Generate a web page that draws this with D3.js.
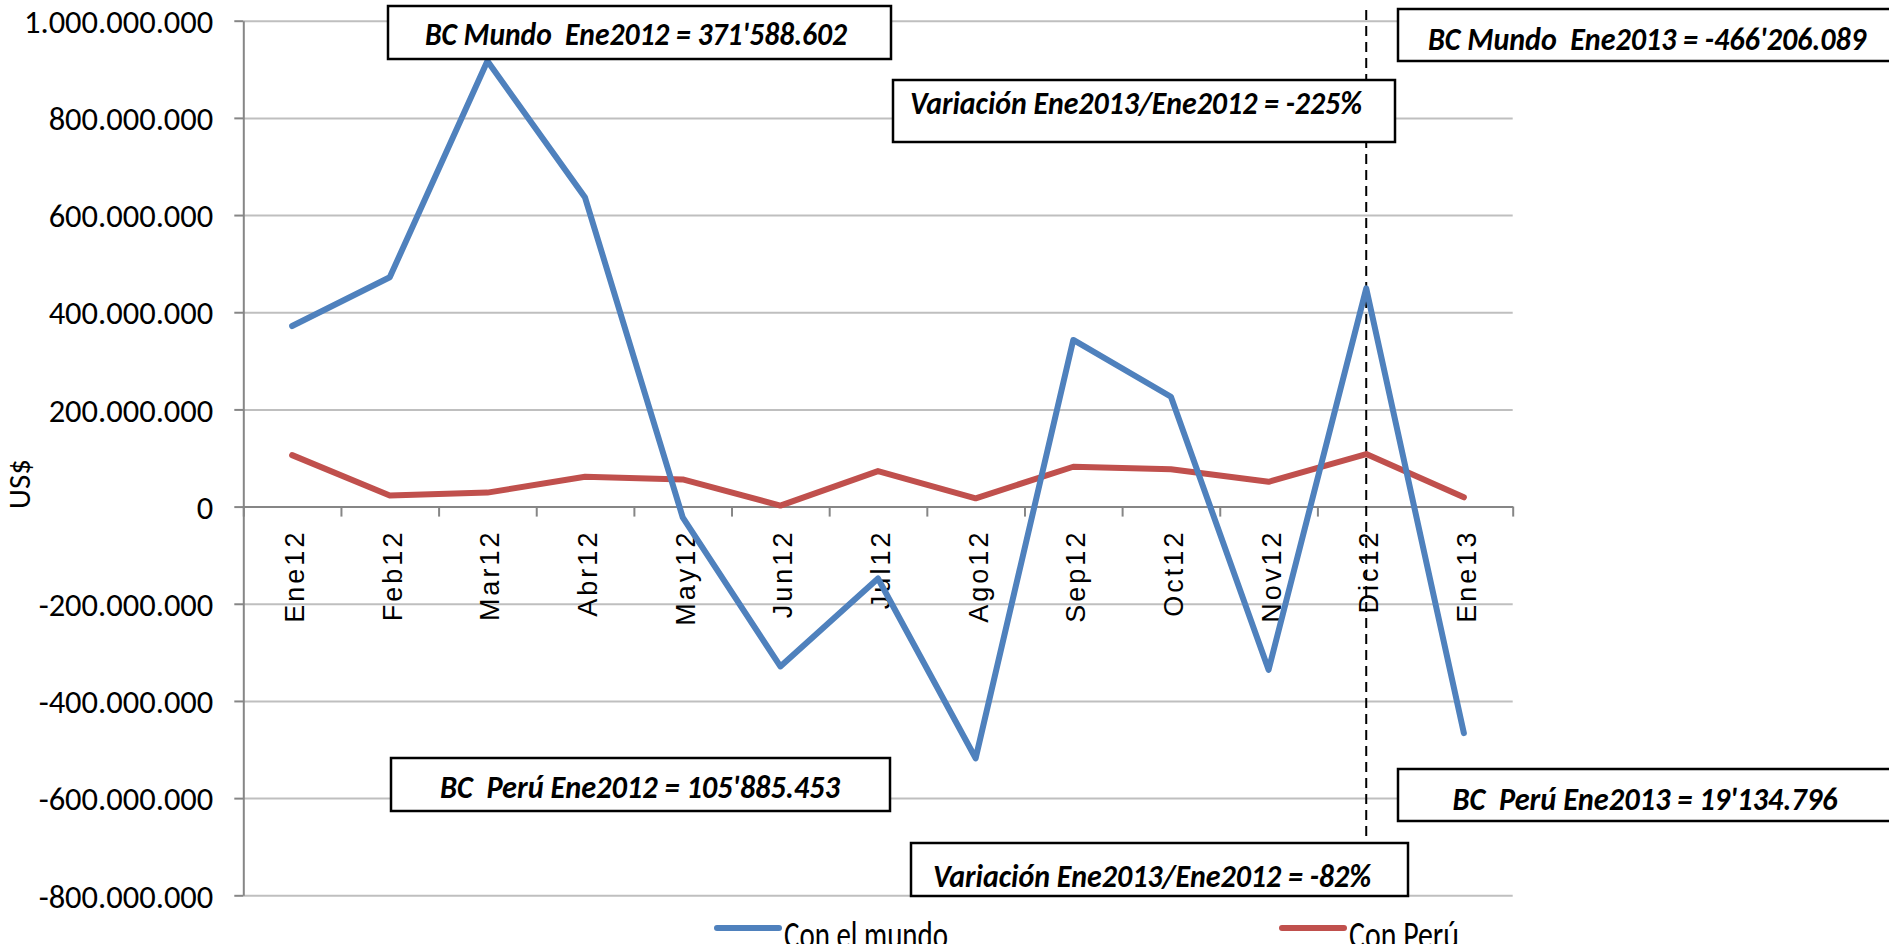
<!DOCTYPE html>
<html>
<head>
<meta charset="utf-8">
<script src="https://cdn.jsdelivr.net/npm/d3@7"></script>
<style>
  body { margin: 0; background: #fff; overflow: hidden; }
  svg { display: block; }
</style>
</head>
<body>
<svg id="chart"></svg>
<script>
// ---- data ----
const months = ["Ene12","Feb12","Mar12","Abr12","May12","Jun12","Jul12","Ago12","Sep12","Oct12","Nov12","Dic12","Ene13"];
const conElMundo = [371588602, 472e6, 917e6, 636e6, -22e6, -329e6, -148e6, -518e6, 343e6, 226e6, -336e6, 449e6, -466206089];
const conPeru = [105885453, 22.7e6, 28.8e6, 61.5e6, 56e6, 2e6, 73e6, 17e6, 82e6, 77e6, 51e6, 108e6, 19134796];
const yTicks = [-800e6, -600e6, -400e6, -200e6, 0, 200e6, 400e6, 600e6, 800e6, 1000e6];
const seriesNames = ["Con el mundo", "Con Perú"];
const noteTexts = [
  "BC Mundo  Ene2012 = 371'588.602",
  "Variación Ene2013/Ene2012 = -225%",
  "BC Mundo  Ene2013 = -466'206.089",
  "BC  Perú Ene2012 = 105'885.453",
  "BC  Perú Ene2013 = 19'134.796",
  "Variación Ene2013/Ene2012 = -82%"
];
const markMonth = "Dic12";

// ---- layout ----
const W = 1889, H = 944;
const plot = { left: 243.3, right: 1512.7, top: 20.7, bottom: 895.3 };
// box rectangles + text extents for the call-outs
const noteBoxes = [
  { x0: 388, x1: 891, y0: 6, y1: 59, base: 45, tx: 636, tw: 422 },
  { x0: 893, x1: 1395, y0: 80, y1: 142, base: 114, tx: 1136, tw: 452 },
  { x0: 1398, x1: 1900, y0: 9, y1: 61, base: 50, tx: 1647, tw: 438 },
  { x0: 391, x1: 890, y0: 758, y1: 811, base: 798, tx: 640, tw: 400 },
  { x0: 1398, x1: 1900, y0: 769, y1: 821, base: 810, tx: 1645, tw: 385 },
  { x0: 911, x1: 1408, y0: 843, y1: 896, base: 887, tx: 1152, tw: 438 }
];
const colors = ["#4F81BD", "#C0504D"];
const calibri = "Carlito, Lato, 'Open Sans', sans-serif";

const svg = d3.select("#chart").attr("width", W).attr("height", H);

const x = d3.scaleBand().domain(months).range([plot.left, plot.right]);
const y = d3.scaleLinear().domain([-800e6, 1000e6]).range([plot.bottom, plot.top]);

const locale = d3.formatLocale({ decimal: ",", thousands: ".", grouping: [3], currency: ["", ""], minus: "-" });
const fmt = locale.format(",d");

// gridlines
svg.append("g")
  .attr("transform", `translate(${plot.left},0)`)
  .call(d3.axisLeft(y).tickValues(yTicks).tickSize(-(plot.right - plot.left)).tickFormat(""))
  .call(g => g.select(".domain").remove())
  .call(g => g.selectAll("line").attr("stroke", "#BFBFBF").attr("stroke-width", 2));

// y axis
svg.append("g")
  .attr("transform", `translate(${plot.left},0)`)
  .call(d3.axisLeft(y).tickValues(yTicks).tickSize(9).tickSizeOuter(0).tickPadding(21).tickFormat(fmt))
  .call(g => g.select(".domain").attr("stroke", "#868686").attr("stroke-width", 2))
  .call(g => g.selectAll("line").attr("stroke", "#868686").attr("stroke-width", 2))
  .call(g => g.selectAll("text")
    .attr("font-family", calibri).attr("font-size", 32.5).attr("fill", "#000").attr("dy", "0.36em"));

// x axis at zero: tick marks on category boundaries
const xEdge = d3.scaleLinear().domain([0, months.length]).range([plot.left, plot.right]);
svg.append("g")
  .attr("transform", `translate(0,${y(0)})`)
  .call(d3.axisBottom(xEdge).tickValues(d3.range(months.length + 1)).tickSize(10).tickSizeOuter(0).tickFormat(""))
  .call(g => g.select(".domain").attr("stroke", "#868686").attr("stroke-width", 2))
  .call(g => g.selectAll("line").attr("stroke", "#868686").attr("stroke-width", 2));

// x labels, rotated
svg.append("g")
  .attr("transform", `translate(0,${y(0)})`)
  .call(d3.axisBottom(x).tickSize(0).tickSizeOuter(0))
  .call(g => g.select(".domain").remove())
  .call(g => g.selectAll("text")
    .attr("font-family", "'Liberation Sans', Arial, sans-serif")
    .attr("font-size", 27)
    .attr("letter-spacing", 3)
    .attr("fill", "#000")
    .attr("text-anchor", "end")
    .attr("transform", "rotate(-90)")
    .attr("x", -23)
    .attr("y", 12)
    .attr("dy", 0));

// y title
svg.append("text")
  .attr("transform", `translate(30,484) rotate(-90)`)
  .attr("text-anchor", "middle")
  .attr("font-family", calibri)
  .attr("font-size", 31)
  .text("US$");

// dashed marker line at Dic12
svg.append("line")
  .attr("x1", x(markMonth) + x.bandwidth() / 2)
  .attr("x2", x(markMonth) + x.bandwidth() / 2)
  .attr("y1", 10).attr("y2", 843)
  .attr("stroke", "#000").attr("stroke-width", 2)
  .attr("stroke-dasharray", "10,6");

// series
const line = d3.line()
  .x((d, i) => x(months[i]) + x.bandwidth() / 2)
  .y(d => y(d));

[conPeru, conElMundo].forEach((vals, k) => {
  svg.append("path")
    .datum(vals)
    .attr("d", line)
    .attr("fill", "none")
    .attr("stroke", colors[1 - k])
    .attr("stroke-width", 6)
    .attr("stroke-linejoin", "round")
    .attr("stroke-linecap", "round");
});

// call-out boxes
const notes = svg.append("g");
noteBoxes.forEach((b, i) => {
  notes.append("rect")
    .attr("x", b.x0).attr("y", b.y0)
    .attr("width", b.x1 - b.x0).attr("height", b.y1 - b.y0)
    .attr("fill", "#fff").attr("stroke", "#000").attr("stroke-width", 2.5);
  notes.append("text")
    .attr("x", b.tx - b.tw / 2).attr("y", b.base)
    .attr("font-family", calibri)
    .attr("font-weight", "bold").attr("font-style", "italic")
    .attr("font-size", 33)
    .attr("textLength", b.tw).attr("lengthAdjust", "spacingAndGlyphs")
    .style("white-space", "pre")
    .text(noteTexts[i]);
});

// legend (text sits on the bottom edge, as in the source)
const legendPos = [{ x: 717, tw: 164 }, { x: 1282, tw: 110 }];
seriesNames.forEach((name, i) => {
  const p = legendPos[i];
  svg.append("line")
    .attr("x1", p.x).attr("x2", p.x + 62)
    .attr("y1", 928).attr("y2", 928)
    .attr("stroke", colors[i]).attr("stroke-width", 6).attr("stroke-linecap", "round");
  svg.append("text")
    .attr("x", p.x + 67).attr("y", 948)
    .attr("font-family", calibri)
    .attr("font-size", 38)
    .attr("textLength", p.tw).attr("lengthAdjust", "spacingAndGlyphs")
    .text(name);
});
</script>
</body>
</html>
